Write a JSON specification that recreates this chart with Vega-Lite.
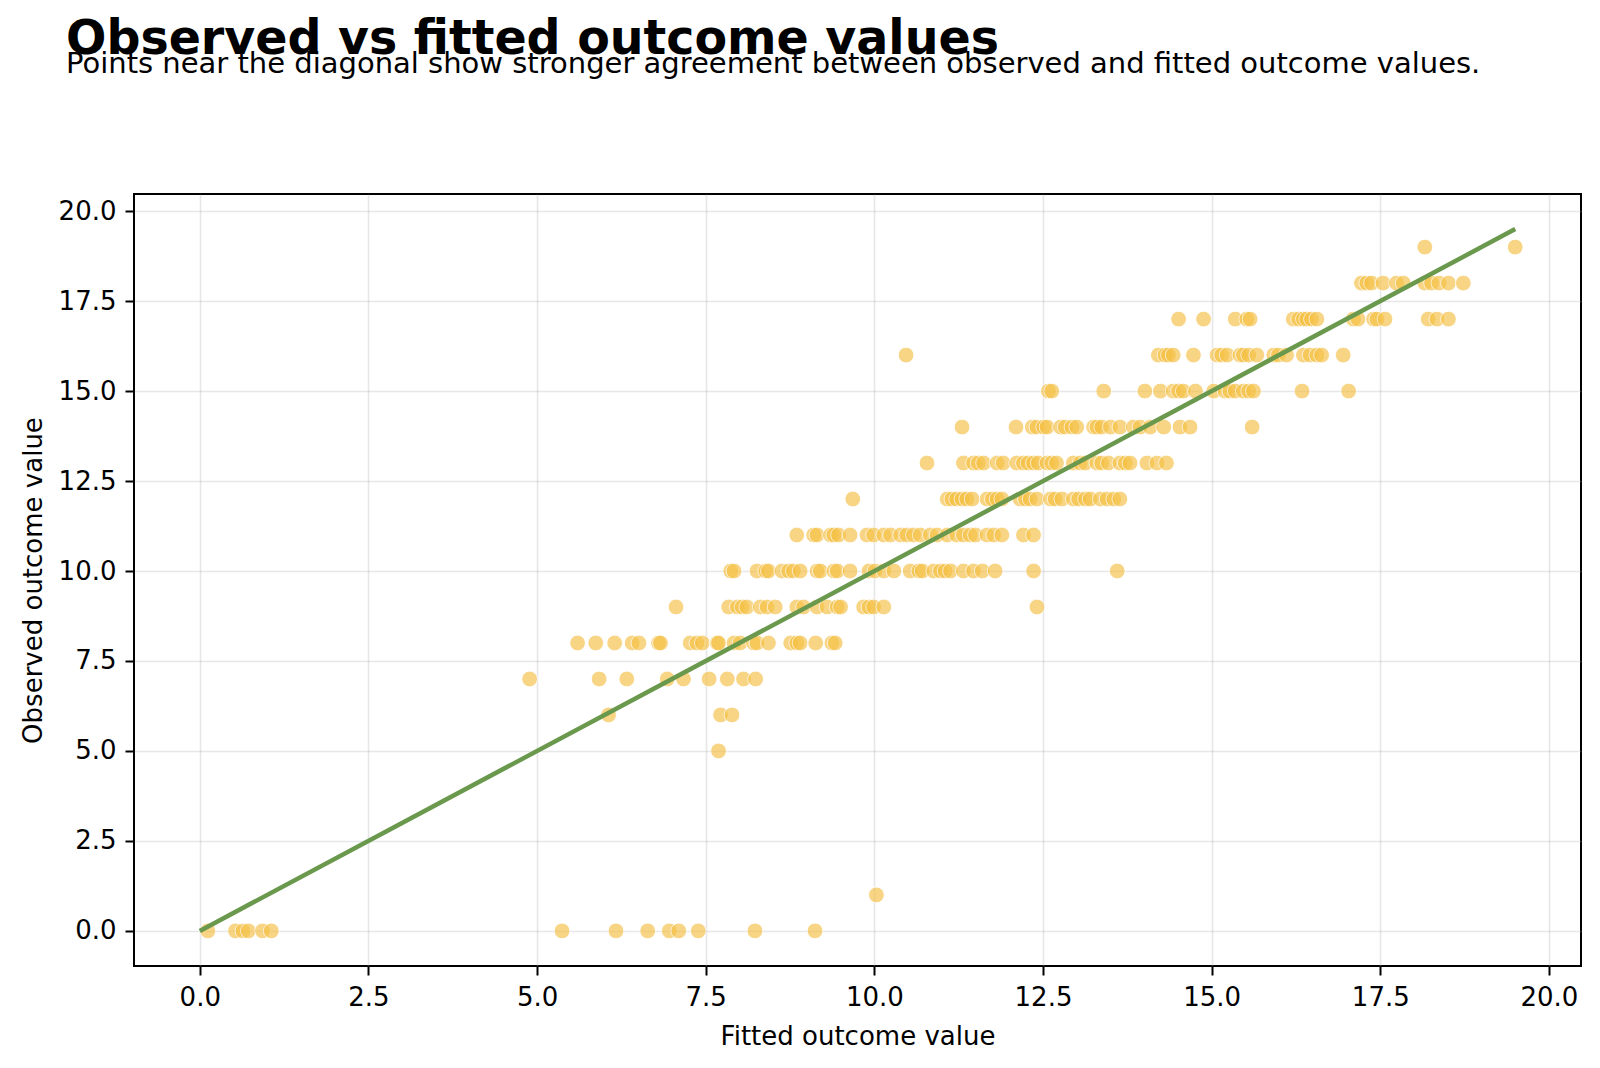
{
  "$schema": "https://vega.github.io/schema/vega-lite/v6.json",
  "width": 1447,
  "height": 772,
  "autosize": {"type": "none"},
  "padding": {"left": 134, "top": 194, "right": 19, "bottom": 102},
  "background": "white",
  "title": {
    "text": "Observed vs fitted outcome values",
    "subtitle": "Points near the diagonal show stronger agreement between observed and fitted outcome values.",
    "anchor": "start",
    "frame": "group",
    "dx": -68,
    "offset": 115,
    "font": "DejaVu Sans",
    "fontSize": 47.5,
    "fontWeight": "bold",
    "color": "#000000",
    "subtitleFont": "DejaVu Sans",
    "subtitleFontSize": 29,
    "subtitleColor": "#000000",
    "subtitlePadding": -13
  },
  "config": {
    "view": {"stroke": "#000000", "strokeWidth": 2},
    "axis": {
      "domain": false,
      "labelFont": "DejaVu Sans",
      "labelFontSize": 26,
      "labelColor": "#000000",
      "labelPadding": 9,
      "titleFont": "DejaVu Sans",
      "titleFontSize": 26,
      "titleFontWeight": "normal",
      "titleColor": "#000000",
      "tickColor": "#000000",
      "tickWidth": 2,
      "tickSize": 9,
      "gridColor": "#b0b0b0",
      "gridOpacity": 0.3,
      "gridWidth": 1.6
    }
  },
  "datasets": {
    "scores": [
      {"fitted": 18.16, "observed": 19}, {"fitted": 19.5, "observed": 19},
      {"fitted": 17.22, "observed": 18}, {"fitted": 17.30, "observed": 18}, {"fitted": 17.37, "observed": 18}, {"fitted": 17.54, "observed": 18}, {"fitted": 17.74, "observed": 18}, {"fitted": 17.84, "observed": 18}, {"fitted": 18.16, "observed": 18}, {"fitted": 18.26, "observed": 18}, {"fitted": 18.37, "observed": 18}, {"fitted": 18.51, "observed": 18}, {"fitted": 18.73, "observed": 18},
      {"fitted": 14.51, "observed": 17}, {"fitted": 14.88, "observed": 17}, {"fitted": 15.35, "observed": 17}, {"fitted": 15.52, "observed": 17}, {"fitted": 15.57, "observed": 17}, {"fitted": 16.21, "observed": 17}, {"fitted": 16.29, "observed": 17}, {"fitted": 16.36, "observed": 17}, {"fitted": 16.41, "observed": 17}, {"fitted": 16.48, "observed": 17}, {"fitted": 16.56, "observed": 17}, {"fitted": 17.10, "observed": 17}, {"fitted": 17.17, "observed": 17}, {"fitted": 17.40, "observed": 17}, {"fitted": 17.45, "observed": 17}, {"fitted": 17.57, "observed": 17}, {"fitted": 18.21, "observed": 17}, {"fitted": 18.34, "observed": 17}, {"fitted": 18.51, "observed": 17},
      {"fitted": 10.47, "observed": 16}, {"fitted": 14.21, "observed": 16}, {"fitted": 14.31, "observed": 16}, {"fitted": 14.36, "observed": 16}, {"fitted": 14.43, "observed": 16}, {"fitted": 14.73, "observed": 16}, {"fitted": 15.08, "observed": 16}, {"fitted": 15.15, "observed": 16}, {"fitted": 15.23, "observed": 16}, {"fitted": 15.42, "observed": 16}, {"fitted": 15.47, "observed": 16}, {"fitted": 15.55, "observed": 16}, {"fitted": 15.67, "observed": 16}, {"fitted": 15.92, "observed": 16}, {"fitted": 15.99, "observed": 16}, {"fitted": 16.11, "observed": 16}, {"fitted": 16.36, "observed": 16}, {"fitted": 16.46, "observed": 16}, {"fitted": 16.56, "observed": 16}, {"fitted": 16.63, "observed": 16}, {"fitted": 16.95, "observed": 16},
      {"fitted": 12.58, "observed": 15}, {"fitted": 12.63, "observed": 15}, {"fitted": 13.40, "observed": 15}, {"fitted": 14.01, "observed": 15}, {"fitted": 14.24, "observed": 15}, {"fitted": 14.43, "observed": 15}, {"fitted": 14.51, "observed": 15}, {"fitted": 14.58, "observed": 15}, {"fitted": 14.76, "observed": 15}, {"fitted": 15.03, "observed": 15}, {"fitted": 15.20, "observed": 15}, {"fitted": 15.27, "observed": 15}, {"fitted": 15.35, "observed": 15}, {"fitted": 15.47, "observed": 15}, {"fitted": 15.55, "observed": 15}, {"fitted": 15.62, "observed": 15}, {"fitted": 16.34, "observed": 15}, {"fitted": 17.03, "observed": 15},
      {"fitted": 11.30, "observed": 14}, {"fitted": 12.10, "observed": 14}, {"fitted": 12.34, "observed": 14}, {"fitted": 12.41, "observed": 14}, {"fitted": 12.51, "observed": 14}, {"fitted": 12.56, "observed": 14}, {"fitted": 12.76, "observed": 14}, {"fitted": 12.83, "observed": 14}, {"fitted": 12.93, "observed": 14}, {"fitted": 13.00, "observed": 14}, {"fitted": 13.25, "observed": 14}, {"fitted": 13.30, "observed": 14}, {"fitted": 13.37, "observed": 14}, {"fitted": 13.50, "observed": 14}, {"fitted": 13.64, "observed": 14}, {"fitted": 13.84, "observed": 14}, {"fitted": 13.94, "observed": 14}, {"fitted": 14.09, "observed": 14}, {"fitted": 14.29, "observed": 14}, {"fitted": 14.53, "observed": 14}, {"fitted": 14.68, "observed": 14}, {"fitted": 15.60, "observed": 14},
      {"fitted": 10.78, "observed": 13}, {"fitted": 11.32, "observed": 13}, {"fitted": 11.47, "observed": 13}, {"fitted": 11.54, "observed": 13}, {"fitted": 11.62, "observed": 13}, {"fitted": 11.82, "observed": 13}, {"fitted": 11.91, "observed": 13}, {"fitted": 12.11, "observed": 13}, {"fitted": 12.21, "observed": 13}, {"fitted": 12.28, "observed": 13}, {"fitted": 12.36, "observed": 13}, {"fitted": 12.43, "observed": 13}, {"fitted": 12.56, "observed": 13}, {"fitted": 12.63, "observed": 13}, {"fitted": 12.70, "observed": 13}, {"fitted": 12.95, "observed": 13}, {"fitted": 13.05, "observed": 13}, {"fitted": 13.13, "observed": 13}, {"fitted": 13.30, "observed": 13}, {"fitted": 13.37, "observed": 13}, {"fitted": 13.47, "observed": 13}, {"fitted": 13.64, "observed": 13}, {"fitted": 13.72, "observed": 13}, {"fitted": 13.79, "observed": 13}, {"fitted": 14.04, "observed": 13}, {"fitted": 14.19, "observed": 13}, {"fitted": 14.33, "observed": 13},
      {"fitted": 9.68, "observed": 12}, {"fitted": 11.08, "observed": 12}, {"fitted": 11.15, "observed": 12}, {"fitted": 11.22, "observed": 12}, {"fitted": 11.30, "observed": 12}, {"fitted": 11.37, "observed": 12}, {"fitted": 11.45, "observed": 12}, {"fitted": 11.67, "observed": 12}, {"fitted": 11.75, "observed": 12}, {"fitted": 11.82, "observed": 12}, {"fitted": 11.89, "observed": 12}, {"fitted": 12.16, "observed": 12}, {"fitted": 12.24, "observed": 12}, {"fitted": 12.31, "observed": 12}, {"fitted": 12.41, "observed": 12}, {"fitted": 12.61, "observed": 12}, {"fitted": 12.68, "observed": 12}, {"fitted": 12.78, "observed": 12}, {"fitted": 12.95, "observed": 12}, {"fitted": 13.03, "observed": 12}, {"fitted": 13.13, "observed": 12}, {"fitted": 13.20, "observed": 12}, {"fitted": 13.35, "observed": 12}, {"fitted": 13.45, "observed": 12}, {"fitted": 13.55, "observed": 12}, {"fitted": 13.64, "observed": 12},
      {"fitted": 8.85, "observed": 11}, {"fitted": 9.10, "observed": 11}, {"fitted": 9.15, "observed": 11}, {"fitted": 9.35, "observed": 11}, {"fitted": 9.40, "observed": 11}, {"fitted": 9.47, "observed": 11}, {"fitted": 9.64, "observed": 11}, {"fitted": 9.89, "observed": 11}, {"fitted": 9.99, "observed": 11}, {"fitted": 10.14, "observed": 11}, {"fitted": 10.24, "observed": 11}, {"fitted": 10.39, "observed": 11}, {"fitted": 10.48, "observed": 11}, {"fitted": 10.58, "observed": 11}, {"fitted": 10.68, "observed": 11}, {"fitted": 10.83, "observed": 11}, {"fitted": 10.93, "observed": 11}, {"fitted": 11.08, "observed": 11}, {"fitted": 11.22, "observed": 11}, {"fitted": 11.32, "observed": 11}, {"fitted": 11.42, "observed": 11}, {"fitted": 11.50, "observed": 11}, {"fitted": 11.67, "observed": 11}, {"fitted": 11.77, "observed": 11}, {"fitted": 11.89, "observed": 11}, {"fitted": 12.21, "observed": 11}, {"fitted": 12.36, "observed": 11},
      {"fitted": 7.87, "observed": 10}, {"fitted": 7.92, "observed": 10}, {"fitted": 8.26, "observed": 10}, {"fitted": 8.39, "observed": 10}, {"fitted": 8.43, "observed": 10}, {"fitted": 8.63, "observed": 10}, {"fitted": 8.73, "observed": 10}, {"fitted": 8.80, "observed": 10}, {"fitted": 8.90, "observed": 10}, {"fitted": 9.15, "observed": 10}, {"fitted": 9.20, "observed": 10}, {"fitted": 9.40, "observed": 10}, {"fitted": 9.45, "observed": 10}, {"fitted": 9.64, "observed": 10}, {"fitted": 9.92, "observed": 10}, {"fitted": 10.01, "observed": 10}, {"fitted": 10.14, "observed": 10}, {"fitted": 10.29, "observed": 10}, {"fitted": 10.53, "observed": 10}, {"fitted": 10.66, "observed": 10}, {"fitted": 10.71, "observed": 10}, {"fitted": 10.88, "observed": 10}, {"fitted": 10.98, "observed": 10}, {"fitted": 11.05, "observed": 10}, {"fitted": 11.13, "observed": 10}, {"fitted": 11.32, "observed": 10}, {"fitted": 11.47, "observed": 10}, {"fitted": 11.60, "observed": 10}, {"fitted": 11.79, "observed": 10}, {"fitted": 12.36, "observed": 10}, {"fitted": 13.60, "observed": 10},
      {"fitted": 7.06, "observed": 9}, {"fitted": 7.84, "observed": 9}, {"fitted": 7.97, "observed": 9}, {"fitted": 8.04, "observed": 9}, {"fitted": 8.11, "observed": 9}, {"fitted": 8.31, "observed": 9}, {"fitted": 8.41, "observed": 9}, {"fitted": 8.53, "observed": 9}, {"fitted": 8.85, "observed": 9}, {"fitted": 8.95, "observed": 9}, {"fitted": 9.15, "observed": 9}, {"fitted": 9.30, "observed": 9}, {"fitted": 9.45, "observed": 9}, {"fitted": 9.50, "observed": 9}, {"fitted": 9.84, "observed": 9}, {"fitted": 9.92, "observed": 9}, {"fitted": 9.99, "observed": 9}, {"fitted": 10.14, "observed": 9}, {"fitted": 12.41, "observed": 9},
      {"fitted": 5.60, "observed": 8}, {"fitted": 5.87, "observed": 8}, {"fitted": 6.15, "observed": 8}, {"fitted": 6.41, "observed": 8}, {"fitted": 6.51, "observed": 8}, {"fitted": 6.80, "observed": 8}, {"fitted": 6.83, "observed": 8}, {"fitted": 7.27, "observed": 8}, {"fitted": 7.37, "observed": 8}, {"fitted": 7.45, "observed": 8}, {"fitted": 7.67, "observed": 8}, {"fitted": 7.69, "observed": 8}, {"fitted": 7.92, "observed": 8}, {"fitted": 8.01, "observed": 8}, {"fitted": 8.21, "observed": 8}, {"fitted": 8.26, "observed": 8}, {"fitted": 8.43, "observed": 8}, {"fitted": 8.76, "observed": 8}, {"fitted": 8.85, "observed": 8}, {"fitted": 8.90, "observed": 8}, {"fitted": 9.13, "observed": 8}, {"fitted": 9.37, "observed": 8}, {"fitted": 9.42, "observed": 8},
      {"fitted": 4.89, "observed": 7}, {"fitted": 5.92, "observed": 7}, {"fitted": 6.33, "observed": 7}, {"fitted": 6.93, "observed": 7}, {"fitted": 7.17, "observed": 7}, {"fitted": 7.55, "observed": 7}, {"fitted": 7.82, "observed": 7}, {"fitted": 8.06, "observed": 7}, {"fitted": 8.24, "observed": 7},
      {"fitted": 6.06, "observed": 6}, {"fitted": 7.72, "observed": 6}, {"fitted": 7.89, "observed": 6},
      {"fitted": 7.69, "observed": 5},
      {"fitted": 10.03, "observed": 1},
      {"fitted": 0.12, "observed": 0}, {"fitted": 0.53, "observed": 0}, {"fitted": 0.64, "observed": 0}, {"fitted": 0.72, "observed": 0}, {"fitted": 0.93, "observed": 0}, {"fitted": 1.06, "observed": 0}, {"fitted": 5.37, "observed": 0}, {"fitted": 6.17, "observed": 0}, {"fitted": 6.64, "observed": 0}, {"fitted": 6.96, "observed": 0}, {"fitted": 7.10, "observed": 0}, {"fitted": 7.39, "observed": 0}, {"fitted": 8.23, "observed": 0}, {"fitted": 9.12, "observed": 0}
    ],
    "diagonal": [
      {"fitted": 0, "observed": 0},
      {"fitted": 19.5, "observed": 19.5}
    ]
  },
  "encoding": {
    "x": {
      "field": "fitted",
      "type": "quantitative",
      "scale": {"domain": [-0.975, 20.475], "nice": false, "zero": false},
      "axis": {"title": "Fitted outcome value", "values": [0, 2.5, 5, 7.5, 10, 12.5, 15, 17.5, 20], "format": ".1f", "titlePadding": 13}
    },
    "y": {
      "field": "observed",
      "type": "quantitative",
      "scale": {"domain": [-0.975, 20.475], "nice": false, "zero": false},
      "axis": {"title": "Observed outcome value", "values": [0, 2.5, 5, 7.5, 10, 12.5, 15, 17.5, 20], "format": ".1f", "titlePadding": 12}
    }
  },
  "layer": [
    {
      "data": {"name": "scores"},
      "mark": {"type": "circle", "size": 250, "color": "#f5c043", "opacity": 0.65, "stroke": "#ffffff", "strokeWidth": 1}
    },
    {
      "data": {"name": "diagonal"},
      "mark": {"type": "line", "color": "#6a994e", "strokeWidth": 4.5}
    }
  ]
}
